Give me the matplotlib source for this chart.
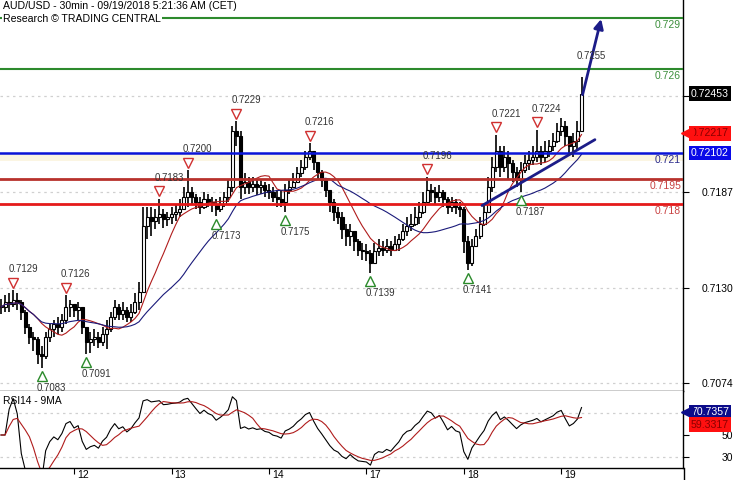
import numpy as np
import pandas as pd
import matplotlib
matplotlib.use("Agg")
import matplotlib.pyplot as plt
from matplotlib.transforms import offset_copy, ScaledTranslation
from matplotlib.lines import Line2D

plt.rcParams["font.family"] = ["Liberation Sans", "DejaVu Sans"]

TITLE = "AUD/USD - 30min - 09/19/2018 5:21:36 AM (CET)"
SOURCE = "Research \u00a9 TRADING CENTRAL"

# hourly bars
closes = [
    .7119, .7122, .7121, .7123, .7122, .7116, .7107, .7101, .7100, .7091,
    .7090, .7101, .7106, .7109, .7107, .7111, .7119, .7121, .7117, .7119,
    .7107, .7098, .7100, .7101, .7098, .7103, .7106, .7113, .7119, .7115,
    .7117, .7113, .7116, .7122, .7128, .7167, .7172, .7170, .7172, .7174,
    .7171, .7172, .7174, .7175, .7177, .7184, .7187, .7184, .7181, .7178,
    .7183, .7181, .7180, .7177, .7180, .7184, .7190, .7223, .7220, .7190,
    .7193, .7190, .7192, .7190, .7191, .7188, .7187, .7184, .7183, .7181,
    .7188, .7190, .7193, .7198, .7202, .7208, .7211, .7205, .7199, .7194,
    .7188, .7181, .7175, .7172, .7165, .7161, .7164, .7158, .7153, .7152,
    .7151, .7145, .7152, .7154, .7153, .7155, .7153, .7156, .7159, .7164,
    .7167, .7168, .7172, .7175, .7181, .7188, .7187, .7184, .7187, .7183,
    .7178, .7181, .7178, .7177, .7158, .7145, .7155, .7161, .7168, .7175,
    .7190, .7202, .7211, .7202, .7208, .7204, .7199, .7194, .7200, .7204,
    .7206, .7208, .7211, .7208, .7211, .7214, .7217, .7223, .7226, .7220,
    .7214, .7217, .7223, .72453,
]
highs = [
    .7124, .7126, .7127, .7129, .7127, .7123, .7117, .7109, .7104, .7101,
    .7096, .7104, .7109, .7111, .7113, .7115, .7126, .7123, .7121, .7122,
    .7119, .7107, .7104, .7106, .7104, .7107, .7111, .7116, .7123, .7121,
    .7122, .7119, .7121, .7127, .7134, .7178, .7178, .7178, .7177, .7183,
    .7177, .7175, .7178, .7180, .7183, .7190, .7200, .7190, .7186, .7184,
    .7187, .7186, .7184, .7183, .7184, .7187, .7194, .7226, .7229, .7223,
    .7198, .7196, .7196, .7194, .7194, .7193, .7192, .7190, .7188, .7188,
    .7192, .7194, .7198, .7202, .7206, .7211, .7216, .7211, .7205, .7200,
    .7194, .7187, .7183, .7178, .7175, .7168, .7168, .7164, .7159, .7157,
    .7156, .7153, .7157, .7159, .7158, .7159, .7158, .7161, .7162, .7168,
    .7172, .7174, .7178, .7181, .7187, .7196, .7192, .7190, .7191, .7188,
    .7184, .7184, .7183, .7181, .7178, .7161, .7159, .7165, .7172, .7180,
    .7196, .7208, .7221, .7214, .7214, .7211, .7206, .7202, .7205, .7209,
    .7211, .7214, .7224, .7214, .7217, .7218, .7222, .7228, .7231, .7229,
    .7220, .7222, .7229, .7255,
]
lows = [
    .7115, .7116, .7116, .7119, .7117, .7111, .7103, .7097, .7093, .7085,
    .7083, .7088, .7098, .7101, .7103, .7104, .7109, .7113, .7113, .7111,
    .7103, .7091, .7092, .7096, .7095, .7096, .7094, .7104, .7111, .7111,
    .7111, .7110, .7110, .7115, .7117, .7128, .7159, .7161, .7165, .7168,
    .7166, .7167, .7168, .7170, .7172, .7177, .7178, .7180, .7177, .7174,
    .7177, .7178, .7175, .7173, .7175, .7178, .7181, .7187, .7214, .7183,
    .7186, .7186, .7187, .7185, .7186, .7184, .7183, .7181, .7178, .7178,
    .7175, .7186, .7190, .7193, .7196, .7200, .7206, .7200, .7195, .7190,
    .7184, .7175, .7170, .7168, .7159, .7155, .7155, .7152, .7149, .7147,
    .7146, .7139, .7145, .7149, .7149, .7151, .7149, .7152, .7152, .7158,
    .7161, .7164, .7167, .7168, .7174, .7181, .7181, .7180, .7181, .7178,
    .7174, .7175, .7174, .7172, .7151, .7141, .7143, .7155, .7159, .7167,
    .7175, .7187, .7199, .7196, .7199, .7194, .7193, .7190, .7187, .7198,
    .7200, .7203, .7205, .7203, .7205, .7208, .7211, .7216, .7220, .7214,
    .7210, .7208, .7211, .7223,
]

DAY_BARS = [18, 42, 66, 90, 114, 138]
DAY_LABELS = ["12", "13", "14", "17", "18", "19"]

# swing points marked with triangles (bar index, 'h' = high / 'l' = low)
SWING_BARS = [3, 10, 16, 21, 39, 46, 53, 58, 70, 76, 91, 105, 115, 122, 128, 132]
SWING_KINDS = ["h", "l", "h", "l", "h", "h", "l", "h", "l", "h", "l", "h", "l", "h", "l", "h"]

LEVELS = [0.729, 0.726, 0.721, 0.7195, 0.718]
LEVEL_LABELS = ["0.729", "0.726", "0.721", "0.7195", "0.718"]
LEVEL_COLORS = ["#2d8a2d", "#2d8a2d", "#0a14d8", "#b8312c", "#e51a1a"]
LEVEL_TEXT = ["#3d8f3d", "#3d8f3d", "#2a2a8a", "#c84040", "#c84040"]
LEVEL_WIDTHS = [1.5, 1.5, 1.8, 2.0, 2.0]

TREND_BARS = [118.5, 146.3]
TREND_PRICES = [0.7179, 0.7218]
ARROW_BARS = [143.1, 148.0]
ARROW_PRICES = [0.7243, 0.7291]

LAST_PRICE = 0.72453
MA_FAST_LAST = 0.72217
MA_SLOW_LAST = 0.72102
RSI_LAST = 70.7357
RSI_MA_LAST = 59.3317

PRICE_TICKS = [0.7074, 0.7130, 0.7187, 0.7244]
PRICE_TICK_LABELS = ["0.7074", "0.7130", "0.7187", ""]
RSI_TICKS = [30, 50, 70]
RSI_TICK_LABELS = ["30", "50", ""]

closes = np.asarray(closes)
highs = np.asarray(highs)
lows = np.asarray(lows)
assert closes.size == highs.size == lows.size
n = closes.size
x = np.arange(n)

# indicators (30-min periods roughly halved for hourly bars)
s = pd.Series(closes)
ma_fast = s.rolling(10, min_periods=1).mean()
ma_slow = s.rolling(25, min_periods=1).mean()
d = s.diff().fillna(0.0)
gain = d.clip(lower=0).ewm(alpha=1 / 12, adjust=False).mean()
loss = (-d.clip(upper=0)).ewm(alpha=1 / 12, adjust=False).mean()
rsi = (100 - 100 / (1 + gain / loss.replace(0, np.nan))).fillna(50)
rsi_ma = rsi.rolling(6, min_periods=1).mean()

W, H = 735, 480
fig = plt.figure(figsize=(W / 100, H / 100), dpi=100)
ax = fig.add_axes([0, (H - 391) / H, 683 / W, 391 / H])
ax_rsi = fig.add_axes([0, (H - 468) / H, 683 / W, 77 / H], sharex=ax)

# --- price panel ---
opens = np.r_[closes[0], closes[:-1]]
up = closes >= opens
lo = np.minimum(lows, np.minimum(opens, closes))
hi = np.maximum(highs, np.maximum(opens, closes))
ax.vlines(x, lo, hi, color="black", lw=1.2, zorder=2)
body_bot = np.minimum(opens, closes)
body_h = np.maximum(np.abs(closes - opens), 0.00004)
ax.bar(x[up], body_h[up], bottom=body_bot[up], width=0.75, color="white",
       edgecolor="black", lw=0.8, zorder=2)
ax.bar(x[~up], body_h[~up], bottom=body_bot[~up], width=0.75, color="black",
       edgecolor="black", lw=0.8, zorder=2)
ax.plot(x, ma_fast, color="#b01c1c", lw=0.8, zorder=2.5)
ax.plot(x, ma_slow, color="#1a1a7a", lw=0.8, zorder=2.5)

ax.axhspan(0.72055, 0.721, color="#fbf5e2", lw=0, zorder=0)
yax = ax.get_yaxis_transform()
lab_tr = offset_copy(yax, fig=fig, y=-7, units="dots")
for lvl, txt, c, tc, lw in zip(LEVELS, LEVEL_LABELS, LEVEL_COLORS, LEVEL_TEXT, LEVEL_WIDTHS):
    ax.axhline(lvl, color=c, lw=lw, zorder=3)
    ax.text(681 / 683, lvl, txt, transform=lab_tr, ha="right", va="center",
            fontsize=7.5, color=tc, zorder=4)

ax.plot(TREND_BARS, TREND_PRICES, color="#1c1c88", lw=2.0, zorder=4,
        solid_capstyle="round")
ax.annotate("", xy=(ARROW_BARS[1], ARROW_PRICES[1]), xytext=(ARROW_BARS[0], ARROW_PRICES[0]),
            arrowprops=dict(arrowstyle="-|>", color="#1c1c88", lw=2.0, mutation_scale=14),
            zorder=4)

tri_hi = offset_copy(ax.transData, fig=fig, y=7.5, units="dots")
tri_lo = offset_copy(ax.transData, fig=fig, y=-8, units="dots")
txt_hi = offset_copy(ax.transData, fig=fig, x=-5, y=21, units="dots")
txt_lo = offset_copy(ax.transData, fig=fig, x=-5, y=-20, units="dots")
for i, kind in zip(SWING_BARS, SWING_KINDS):
    if kind == "h":
        p = highs[i]
        ax.plot([i], [p], marker="v", ms=7, mfc="white", mec="#d03030", mew=1.0,
                transform=tri_hi, zorder=5)
        ax.text(i, p, f"{p:.4f}", transform=txt_hi, ha="left", va="center",
                fontsize=6.9, color="#333333", zorder=5)
    else:
        p = lows[i]
        ax.plot([i], [p], marker="^", ms=7, mfc="white", mec="#2a8a2a", mew=1.0,
                transform=tri_lo, zorder=5)
        ax.text(i, p, f"{p:.4f}", transform=txt_lo, ha="left", va="center",
                fontsize=6.9, color="#333333", zorder=5)
ax.text(n - 1, highs[-1], f"{highs[-1]:.4f}", transform=txt_hi, ha="left",
        va="center", fontsize=6.9, color="#333333", zorder=5)

ax.set_xlim(-0.25, 168)
ax.set_ylim(0.706927, 0.730065)
ax.yaxis.tick_right()
ax.set_yticks(PRICE_TICKS)
ax.set_yticklabels(PRICE_TICK_LABELS)
ax.grid(axis="y", color="#d0d0d0", linestyle=(0, (2, 3)), lw=0.9)
ax.tick_params(axis="y", direction="out", length=4, pad=32.4, labelsize=7.5)
for t in ax.get_yticklabels():
    t.set_ha("right")
ax.tick_params(axis="x", bottom=False, labelbottom=False)
for side in ("left", "top"):
    ax.spines[side].set_visible(False)
for side in ("right", "bottom"):
    ax.spines[side].set_color("black")
    ax.spines[side].set_linewidth(1.0)


def value_box(axis, y, txt, bg, fg, pointer=False):
    tr = axis.get_yaxis_transform()
    axis.text(691 / 683, y, txt, transform=tr, ha="left", va="center", fontsize=7.6,
              color=fg, clip_on=False, zorder=6,
              bbox=dict(boxstyle="square,pad=0.22", fc=bg, ec="none"))
    if pointer:
        axis.plot([687 / 683], [y], marker="<", ms=8, color=bg, transform=tr,
                  clip_on=False, zorder=6)


value_box(ax, LAST_PRICE, f"{LAST_PRICE:.5f}", "black", "white")
value_box(ax, MA_FAST_LAST, f"{MA_FAST_LAST:.5f}", "#ff1010", "#8a0000", pointer=True)
value_box(ax, MA_SLOW_LAST, f"{MA_SLOW_LAST:.5f}", "#0a0ae8", "white")

# --- RSI panel ---
ax_rsi.plot(x, rsi, color="black", lw=0.8)
ax_rsi.plot(x, rsi_ma, color="#b01c1c", lw=0.8)
for lvl in (30, 70):
    ax_rsi.axhline(lvl, color="#d0d0d0", linestyle=(0, (2, 3)), lw=0.9, zorder=0)
ax_rsi.set_ylim(20, 90)
ax_rsi.set_yticks(RSI_TICKS)
ax_rsi.set_yticklabels(RSI_TICK_LABELS)
ax_rsi.yaxis.tick_right()
ax_rsi.tick_params(axis="y", direction="out", length=4, pad=32.4, labelsize=7.5)
for t in ax_rsi.get_yticklabels():
    t.set_ha("right")
ax_rsi.set_xticks(DAY_BARS)
ax_rsi.set_xticklabels(DAY_LABELS)
ax_rsi.tick_params(axis="x", direction="out", length=4, pad=-2.6, labelsize=7.5)
for t in ax_rsi.get_xticklabels():
    t.set_ha("left")
    t.set_transform(t.get_transform() + ScaledTranslation(3 / 100, 0, fig.dpi_scale_trans))
for side in ("left", "top"):
    ax_rsi.spines[side].set_visible(False)
for side in ("right", "bottom"):
    ax_rsi.spines[side].set_color("black")
    ax_rsi.spines[side].set_linewidth(1.0)
ax_rsi.text(3 / 683, 0.87, "RSI14 - 9MA", transform=ax_rsi.transAxes, ha="left",
            va="center", fontsize=7.4, color="black")
value_box(ax_rsi, RSI_LAST, f"{RSI_LAST:.4f}", "#0c0c8a", "white", pointer=True)
value_box(ax_rsi, RSI_MA_LAST, f"{RSI_MA_LAST:.4f}", "#ff1010", "#8a0000")

fig.add_artist(Line2D([683.5 / W] * 2, [0, (H - 468) / H], color="black", lw=1.0))

fig.text(3 / W, 1 - 6 / H, TITLE, ha="left", va="center", fontsize=7.6, color="black")
fig.text(3 / W, 1 - 19 / H, SOURCE, ha="left", va="center", fontsize=7.6, color="black",
         bbox=dict(boxstyle="square,pad=0.1", fc="white", ec="none"))

fig.savefig("out.png", dpi=100, facecolor="white")
